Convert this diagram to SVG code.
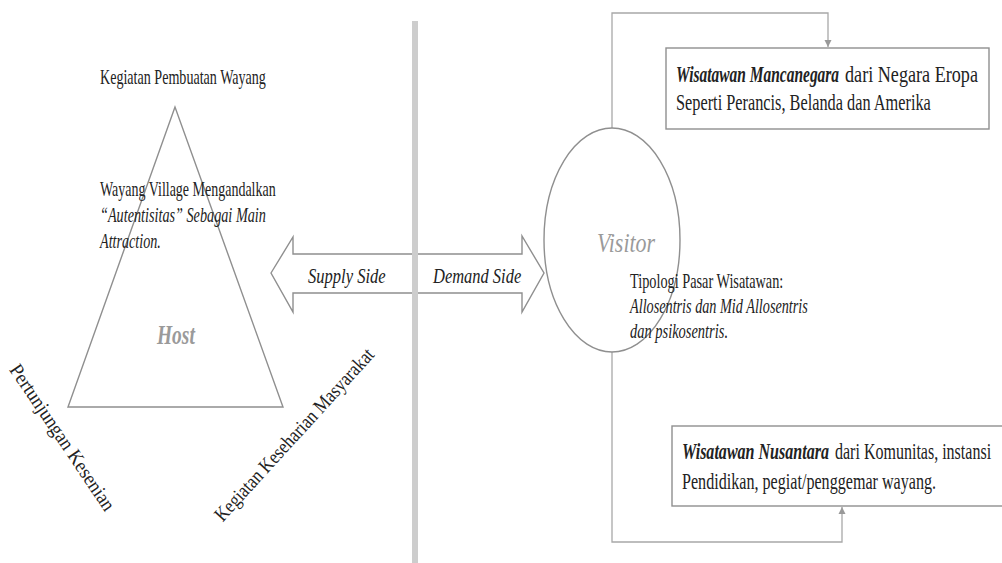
<svg xmlns="http://www.w3.org/2000/svg" width="1002" height="563" viewBox="0 0 1002 563">
<style>
text{font-family:"Liberation Serif","Times New Roman",serif;fill:#222}
.t18{font-size:20px}
.t20{font-size:23px}
.it{font-style:italic}
.bi{font-style:italic;font-weight:bold}
.big{font-size:27px;fill:#9a9a9a;font-style:italic}
.shape{fill:#fff;stroke:#8f8f8f;stroke-width:1.4}
.conn{fill:none;stroke:#a8a8a8;stroke-width:1.3}
</style>
<defs>
<marker id="ah" markerWidth="8" markerHeight="8" refX="7" refY="4" orient="auto" markerUnits="userSpaceOnUse">
<path d="M0,0.5 L7,4 L0,7.5 Z" fill="#999"/>
</marker>
</defs>
<rect width="1002" height="563" fill="#fff"/>

<g id="host">
<polygon class="shape" points="175,107 68,407 283,407"/>
<text class="big" font-weight="bold" transform="translate(157,344) scale(0.7,1)" textLength="54" lengthAdjust="spacingAndGlyphs">Host</text>
</g>

<g id="host-labels">
<text class="t18" transform="translate(100,84) scale(0.7,1)" textLength="237" lengthAdjust="spacingAndGlyphs">Kegiatan Pembuatan Wayang</text>
<text class="t18" transform="translate(100,196) scale(0.7,1)" textLength="251" lengthAdjust="spacingAndGlyphs">Wayang Village  Mengandalkan</text>
<text class="t18 it" transform="translate(100,222) scale(0.7,1)" textLength="237" lengthAdjust="spacingAndGlyphs">“Autentisitas” Sebagai Main</text>
<text class="t18 it" transform="translate(100,248) scale(0.7,1)" textLength="87" lengthAdjust="spacingAndGlyphs">Attraction.</text>
<text class="t18" transform="translate(57,441) rotate(56) scale(0.7,1)" text-anchor="middle" textLength="246" lengthAdjust="spacingAndGlyphs">Pertunjungan Kesenian</text>
<text class="t18" transform="translate(299,439) rotate(-47.6) scale(0.7,1)" text-anchor="middle" textLength="323" lengthAdjust="spacingAndGlyphs">Kegiatan Keseharian Masyarakat</text>
</g>

<g id="supply-demand-arrow">
<polygon class="shape" points="271,273 293,237 293,254 522,254 522,236 544,273 522,312 522,293 293,293 293,312"/>
<text class="t18 it" transform="translate(308,283) scale(0.7,1)" textLength="111" lengthAdjust="spacingAndGlyphs">Supply Side</text>
<text class="t18 it" transform="translate(433,283) scale(0.7,1)" textLength="126" lengthAdjust="spacingAndGlyphs">Demand Side</text>
</g>

<g id="divider">
<rect x="412" y="21" width="6" height="542" fill="#cdcdcd"/>
</g>

<g id="connectors">
<path class="conn" d="M612,128 V13 H828 V47" marker-end="url(#ah)"/>
<path class="conn" d="M612,352 V542 H842 V507" marker-end="url(#ah)"/>
</g>

<g id="visitor">
<ellipse cx="612" cy="240" rx="68" ry="112" fill="none" stroke="#8f8f8f" stroke-width="1.4"/>
<text class="big" transform="translate(597,252) scale(0.7,1)" textLength="83" lengthAdjust="spacingAndGlyphs">Visitor</text>
</g>

<g id="visitor-labels">
<text class="t18" transform="translate(630,288) scale(0.7,1)" textLength="219" lengthAdjust="spacingAndGlyphs">Tipologi Pasar Wisatawan:</text>
<text class="t18 it" transform="translate(630,313) scale(0.7,1)" textLength="254" lengthAdjust="spacingAndGlyphs">Allosentris dan Mid Allosentris</text>
<text class="t18 it" transform="translate(630,338) scale(0.7,1)" textLength="140" lengthAdjust="spacingAndGlyphs">dan psikosentris.</text>
</g>

<g id="mancanegara">
<rect class="shape" x="666" y="48" width="323" height="81"/>
<text class="t20 bi" transform="translate(676,82) scale(0.7,1)" textLength="233" lengthAdjust="spacingAndGlyphs">Wisatawan Mancanegara</text>
<text class="t20" transform="translate(845,82) scale(0.7,1)" textLength="190" lengthAdjust="spacingAndGlyphs">dari Negara Eropa</text>
<text class="t20" transform="translate(676,110) scale(0.7,1)" textLength="364" lengthAdjust="spacingAndGlyphs">Seperti Perancis, Belanda dan Amerika</text>
</g>

<g id="nusantara">
<rect class="shape" x="672" y="426" width="340" height="80"/>
<text class="t20 bi" transform="translate(682,459) scale(0.7,1)" textLength="210" lengthAdjust="spacingAndGlyphs">Wisatawan Nusantara</text>
<text class="t20" transform="translate(835,459) scale(0.7,1)" textLength="223" lengthAdjust="spacingAndGlyphs">dari Komunitas, instansi</text>
<text class="t20" transform="translate(682,489) scale(0.7,1)" textLength="363" lengthAdjust="spacingAndGlyphs">Pendidikan, pegiat/penggemar wayang.</text>
</g>
</svg>
